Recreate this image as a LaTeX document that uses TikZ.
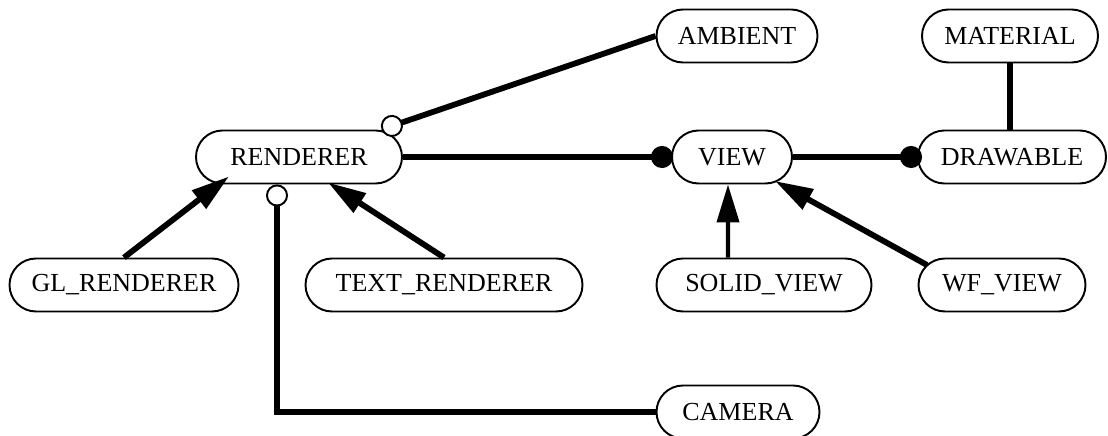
\documentclass[tikz,border=0pt]{standalone}
\usepackage{fontspec}
\setmainfont{Liberation Serif}
\usepackage{tikz}
\usetikzlibrary{arrows.meta}
\usetikzlibrary{shapes.misc}

\tikzset{
  cls/.style={rounded rectangle, draw, line width=1.1pt, minimum height=1.06cm,
              inner xsep=0pt, font=\fontsize{14.8pt}{17pt}\selectfont},
  link/.style={line width=3.3pt},
  isa/.style={link, -{Triangle[length=0.76cm, width=0.44cm]}},
  has/.style={link, -{Circle[length=0.44cm]}},
  uses/.style={link, {Circle[open, fill=white, length=0.44cm, line width=1.1pt]}-},
}

\begin{document}
\begin{tikzpicture}
            \useasboundingbox (0.00, 0.00) rectangle (22.16, 8.72);
            % Classes
            \node[cls, minimum width=3.22cm] (ambient)  at (14.74, 8.00) {AMBIENT};
            \node[cls, minimum width=3.52cm] (material) at (20.20, 8.00) {MATERIAL};
            \node[cls, minimum width=4.12cm] (renderer) at ( 5.98, 5.58) {RENDERER};
            \node[cls, minimum width=2.40cm] (view)     at (14.64, 5.58) {VIEW};
            \node[cls, minimum width=3.76cm] (drawable) at (20.24, 5.58) {DRAWABLE};
            \node[cls, minimum width=4.58cm] (glrend)   at ( 2.48, 3.02) {GL\_RENDERER};
            \node[cls, minimum width=5.54cm] (textrend) at ( 8.88, 3.02) {TEXT\_RENDERER};
            \node[cls, minimum width=4.30cm] (solid)    at (15.28, 3.02) {SOLID\_VIEW};
            \node[cls, minimum width=3.34cm] (wf)       at (20.04, 3.02) {WF\_VIEW};
            \node[cls, minimum width=3.26cm] (camera)   at (14.76, 0.48) {CAMERA};
            % Inheritance
            \draw[isa]                  (glrend.north)                     -- ([shift={(-1.40, 0.16)}]renderer.south);
            \draw[isa]                  (textrend.north)                   -- ([shift={( 0.58, 0.04)}]renderer.south);
            \draw[isa, line width=2.3pt] ([xshift=-0.72cm]solid.north)     -- ([xshift=-0.08cm]view.south);
            \draw[isa]                  ([shift={(-1.50, 0.40)}]wf.center) -- ([shift={( 0.86,-0.48)}]view.center);
            % Aggregation
            \draw[has, shorten >=-0.04cm] (renderer.east)                  -- (view.west);
            \draw[has, shorten >=-0.10cm] (view.east)                      -- (drawable.west);
            \draw[link]                 (material.south)                   -- (material.south |- drawable.north);
            % Use
            \draw[uses]                 ([shift={( 1.65, 0.55)}]renderer.center) -- (ambient.west);
            \draw[uses]                 ([xshift=-0.44cm]renderer.south)   |- (camera.west);
\end{tikzpicture}
\end{document}
